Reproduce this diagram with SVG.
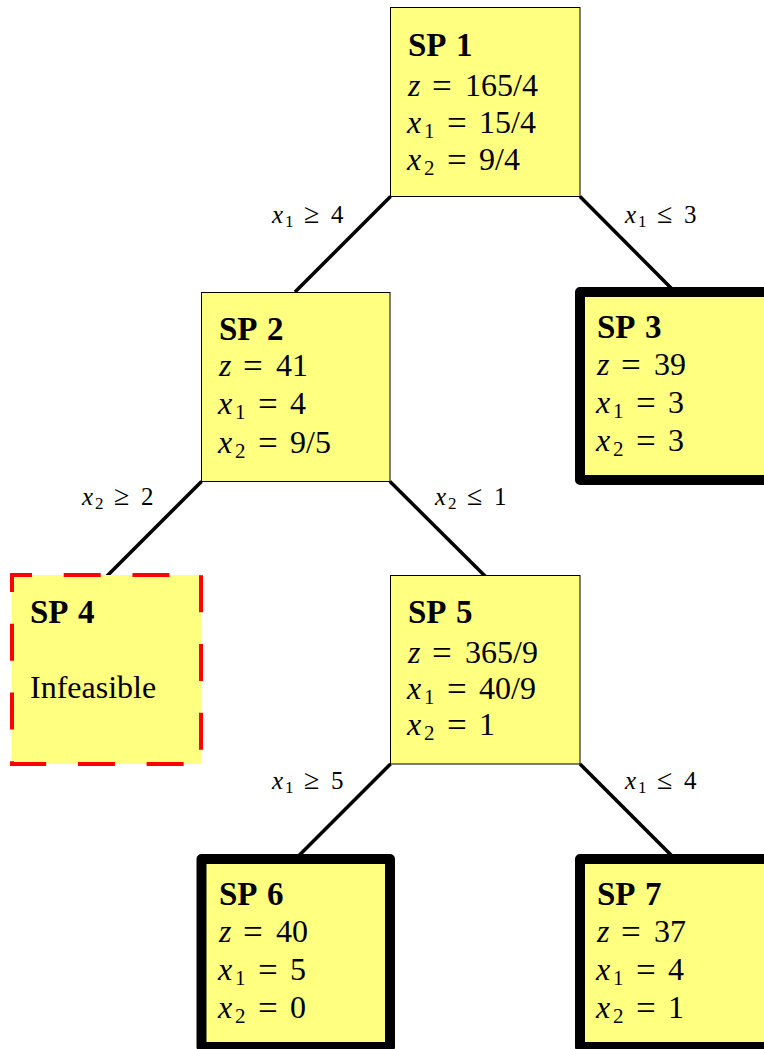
<svg xmlns="http://www.w3.org/2000/svg" width="764" height="1049" viewBox="0 0 764 1049">
<style>
.node{fill:#FFFF80;stroke:#000;stroke-width:1}
.leaf{fill:#FFFF80;stroke:#000;stroke-width:10;stroke-linejoin:round}
.infeas{fill:#FFFF80;stroke:#FF0000;stroke-width:4;stroke-dasharray:37 31.73;stroke-dashoffset:17}
.edge{stroke:#000;stroke-width:3.5;fill:none}
text{font-family:"Liberation Serif",serif;fill:#000}
.t{font-size:32px}
.b{font-weight:bold;font-size:33px}
.i{font-style:italic}
.sub{font-size:21px}
.eq{font-size:35px}
.l{font-size:25px}
.ls{font-size:17px}
.rel{font-size:28px}
</style>
<g id="connectors">
<line class="edge" x1="390.5" y1="196.5" x2="295" y2="292"/>
<line class="edge" x1="580" y1="196.5" x2="675" y2="292"/>
<line class="edge" x1="201.5" y1="481.5" x2="107" y2="576"/>
<line class="edge" x1="390" y1="481.5" x2="485" y2="576"/>
<line class="edge" x1="390.5" y1="764" x2="295.5" y2="859"/>
<line class="edge" x1="580" y1="764" x2="675" y2="859"/>
</g>
<g id="labels">
<text class="l"><tspan class="i" x="272" y="223">x</tspan><tspan class="ls" x="285" y="227">1</tspan><tspan class="rel" x="304" y="223">≥</tspan><tspan x="331" y="223">4</tspan></text>
<text class="l"><tspan class="i" x="625" y="223">x</tspan><tspan class="ls" x="638" y="227">1</tspan><tspan class="rel" x="657" y="223">≤</tspan><tspan x="684" y="223">3</tspan></text>
<text class="l"><tspan class="i" x="82" y="505">x</tspan><tspan class="ls" x="95" y="509">2</tspan><tspan class="rel" x="114" y="505">≥</tspan><tspan x="141" y="505">2</tspan></text>
<text class="l"><tspan class="i" x="435" y="505">x</tspan><tspan class="ls" x="448" y="509">2</tspan><tspan class="rel" x="467" y="505">≤</tspan><tspan x="494" y="505">1</tspan></text>
<text class="l"><tspan class="i" x="272" y="789">x</tspan><tspan class="ls" x="285" y="793">1</tspan><tspan class="rel" x="304" y="789">≥</tspan><tspan x="331" y="789">5</tspan></text>
<text class="l"><tspan class="i" x="625" y="789">x</tspan><tspan class="ls" x="638" y="793">1</tspan><tspan class="rel" x="657" y="789">≤</tspan><tspan x="684" y="789">4</tspan></text>
</g>
<g id="sp1">
<rect class="node" x="390.5" y="7.5" width="189.5" height="189"/>
<text class="b"><tspan x="408" y="56">SP</tspan><tspan x="456" y="56">1</tspan></text>
<text class="t"><tspan class="i" x="408" y="96">z</tspan><tspan class="eq" x="432" y="98">=</tspan><tspan x="465" y="96">165/4</tspan></text>
<text class="t"><tspan class="i" x="407" y="133">x</tspan><tspan class="sub" x="424" y="138">1</tspan><tspan class="eq" x="447" y="135">=</tspan><tspan x="479" y="133">15/4</tspan></text>
<text class="t"><tspan class="i" x="407" y="170">x</tspan><tspan class="sub" x="424" y="175">2</tspan><tspan class="eq" x="447" y="172">=</tspan><tspan x="479" y="170">9/4</tspan></text>
</g>
<g id="sp2">
<rect class="node" x="201.5" y="292.5" width="188.5" height="189"/>
<text class="b"><tspan x="219" y="340">SP</tspan><tspan x="267" y="340">2</tspan></text>
<text class="t"><tspan class="i" x="219" y="376">z</tspan><tspan class="eq" x="243" y="378">=</tspan><tspan x="276" y="376">41</tspan></text>
<text class="t"><tspan class="i" x="218" y="414">x</tspan><tspan class="sub" x="235" y="419">1</tspan><tspan class="eq" x="258" y="416">=</tspan><tspan x="290" y="414">4</tspan></text>
<text class="t"><tspan class="i" x="218" y="453">x</tspan><tspan class="sub" x="235" y="458">2</tspan><tspan class="eq" x="258" y="455">=</tspan><tspan x="290" y="453">9/5</tspan></text>
</g>
<g id="sp3">
<rect class="leaf" x="580" y="292" width="195" height="188"/>
<text class="b"><tspan x="597" y="338">SP</tspan><tspan x="645" y="338">3</tspan></text>
<text class="t"><tspan class="i" x="597" y="375">z</tspan><tspan class="eq" x="621" y="377">=</tspan><tspan x="654" y="375">39</tspan></text>
<text class="t"><tspan class="i" x="596" y="413">x</tspan><tspan class="sub" x="613" y="418">1</tspan><tspan class="eq" x="636" y="415">=</tspan><tspan x="668" y="413">3</tspan></text>
<text class="t"><tspan class="i" x="596" y="451">x</tspan><tspan class="sub" x="613" y="456">2</tspan><tspan class="eq" x="636" y="453">=</tspan><tspan x="668" y="451">3</tspan></text>
</g>
<g id="sp4">
<rect class="infeas" x="12" y="575" width="189" height="189"/>
<text class="b"><tspan x="30" y="623">SP</tspan><tspan x="78" y="623">4</tspan></text>
<text class="t" x="30" y="698">Infeasible</text>
</g>
<g id="sp5">
<rect class="node" x="390.5" y="575.5" width="189.5" height="188.5"/>
<text class="b"><tspan x="408" y="623">SP</tspan><tspan x="456" y="623">5</tspan></text>
<text class="t"><tspan class="i" x="408" y="663">z</tspan><tspan class="eq" x="432" y="665">=</tspan><tspan x="465" y="663">365/9</tspan></text>
<text class="t"><tspan class="i" x="407" y="699">x</tspan><tspan class="sub" x="424" y="704">1</tspan><tspan class="eq" x="447" y="701">=</tspan><tspan x="479" y="699">40/9</tspan></text>
<text class="t"><tspan class="i" x="407" y="735">x</tspan><tspan class="sub" x="424" y="740">2</tspan><tspan class="eq" x="447" y="737">=</tspan><tspan x="479" y="735">1</tspan></text>
</g>
<g id="sp6">
<rect class="leaf" x="201.5" y="859" width="188.5" height="188"/>
<text class="b"><tspan x="219" y="905">SP</tspan><tspan x="267" y="905">6</tspan></text>
<text class="t"><tspan class="i" x="219" y="942">z</tspan><tspan class="eq" x="243" y="944">=</tspan><tspan x="276" y="942">40</tspan></text>
<text class="t"><tspan class="i" x="218" y="980">x</tspan><tspan class="sub" x="235" y="985">1</tspan><tspan class="eq" x="258" y="982">=</tspan><tspan x="290" y="980">5</tspan></text>
<text class="t"><tspan class="i" x="218" y="1018">x</tspan><tspan class="sub" x="235" y="1023">2</tspan><tspan class="eq" x="258" y="1020">=</tspan><tspan x="290" y="1018">0</tspan></text>
</g>
<g id="sp7">
<rect class="leaf" x="580" y="859" width="195" height="188"/>
<text class="b"><tspan x="597" y="905">SP</tspan><tspan x="645" y="905">7</tspan></text>
<text class="t"><tspan class="i" x="597" y="942">z</tspan><tspan class="eq" x="621" y="944">=</tspan><tspan x="654" y="942">37</tspan></text>
<text class="t"><tspan class="i" x="596" y="980">x</tspan><tspan class="sub" x="613" y="985">1</tspan><tspan class="eq" x="636" y="982">=</tspan><tspan x="668" y="980">4</tspan></text>
<text class="t"><tspan class="i" x="596" y="1018">x</tspan><tspan class="sub" x="613" y="1023">2</tspan><tspan class="eq" x="636" y="1020">=</tspan><tspan x="668" y="1018">1</tspan></text>
</g>
</svg>
